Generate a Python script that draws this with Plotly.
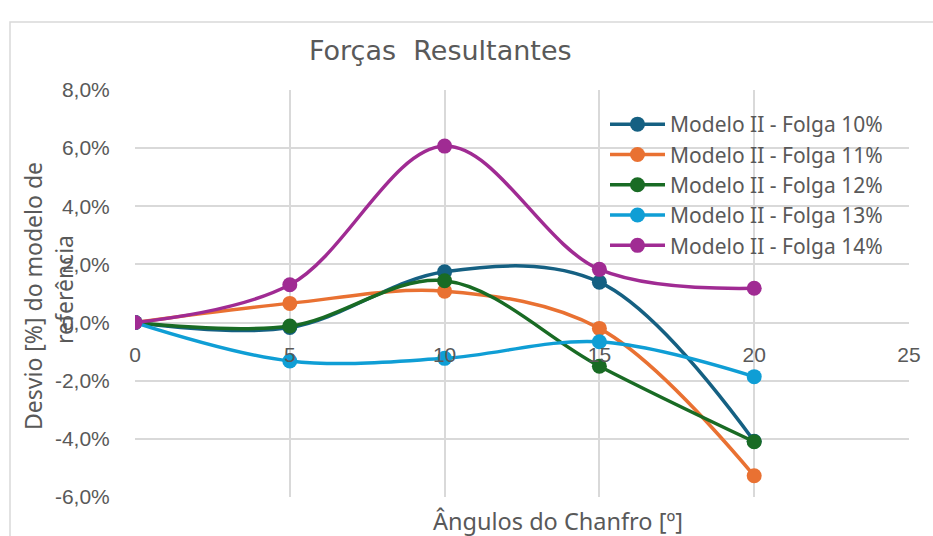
import plotly.graph_objects as go

# Chamfer angles (degrees) and deviation from the reference model (fraction)
angles = [0, 5, 10, 15, 20]
folga_10 = [0.0, -0.0017, 0.0175, 0.0139, -0.0408]
folga_11 = [0.0, 0.0066, 0.0108, -0.0020, -0.0527]
folga_12 = [0.0, -0.0012, 0.0144, -0.0150, -0.0410]
folga_13 = [0.0, -0.0132, -0.0123, -0.0066, -0.0186]
folga_14 = [0.0, 0.0130, 0.0607, 0.0183, 0.0118]

series_names = [
    "Modelo II - Folga 10%",
    "Modelo II - Folga 11%",
    "Modelo II - Folga 12%",
    "Modelo II - Folga 13%",
    "Modelo II - Folga 14%",
]
series_values = [folga_10, folga_11, folga_12, folga_13, folga_14]
colors = ["#156082", "#E97132", "#196B24", "#0F9ED5", "#A02B93"]

x_ticks = [0, 5, 10, 15, 20, 25]
y_ticks = [-0.06, -0.04, -0.02, 0.0, 0.02, 0.04, 0.06, 0.08]
y_tick_labels = ["-6,0%", "-4,0%", "-2,0%", "0,0%", "2,0%", "4,0%", "6,0%", "8,0%"]

text_color = "#595959"
grid_color = "#D9D9D9"

fig = go.Figure()
for name, vals, col in zip(series_names, series_values, colors):
    fig.add_trace(go.Scatter(
        x=angles, y=vals, name=name,
        mode="lines+markers",
        line=dict(color=col, width=3.5, shape="spline", smoothing=1.0),
        marker=dict(color=col, size=15),
    ))

y_min, y_max = -0.06, 0.08
zero_pos = (0 - y_min) / (y_max - y_min)

fig.update_layout(
    width=933, height=536,
    margin=dict(l=135, r=24, t=90, b=39),
    paper_bgcolor="white", plot_bgcolor="white",
    font=dict(family="Liberation Sans, Arial, sans-serif", color=text_color),
    showlegend=True,
    legend=dict(
        x=(605 - 135) / 774, y=(497 - 104) / 407,
        xanchor="left", yanchor="top",
        bgcolor="rgba(0,0,0,0)",
        font=dict(family="Noto Sans, sans-serif", size=21, color=text_color),
        itemwidth=55,
        tracegroupgap=0,
    ),
    xaxis=dict(
        range=[0, 25], tickvals=x_ticks,
        showgrid=True, gridcolor=grid_color, gridwidth=1.5,
        zeroline=False, showline=False,
        anchor="free", position=zero_pos,
        ticks="outside", ticklen=13, tickcolor="rgba(0,0,0,0)",
        tickfont=dict(size=21, color=text_color),
    ),
    yaxis=dict(
        range=[y_min, y_max], tickvals=y_ticks, ticktext=y_tick_labels,
        showgrid=True, gridcolor=grid_color, gridwidth=1.5,
        zeroline=False, showline=False,
        ticks="outside", ticklen=20, tickcolor="rgba(0,0,0,0)",
        tickfont=dict(size=21, color=text_color),
    ),
)

# Chart title
fig.add_annotation(
    text="Forças\u00a0 Resultantes", xref="paper", yref="paper",
    x=(440 - 135) / 774, y=(497 - 50) / 407,
    xanchor="center", yanchor="middle", showarrow=False,
    font=dict(family="DejaVu Sans, sans-serif", size=27, color=text_color),
)

# X axis title
fig.add_annotation(
    text="Ângulos do Chanfro [º]", xref="paper", yref="paper",
    x=(558 - 135) / 774, y=(497 - 521) / 407,
    xanchor="center", yanchor="middle", showarrow=False,
    font=dict(family="Noto Sans, sans-serif", size=23.5, color=text_color),
)

# Y axis title (two lines)
fig.add_annotation(
    text="Desvio [%] do modelo de", xref="paper", yref="paper",
    x=(33 - 135) / 774, y=(497 - 296) / 407,
    xanchor="center", yanchor="middle", showarrow=False, textangle=-90,
    font=dict(family="Noto Sans, sans-serif", size=23, color=text_color),
)
fig.add_annotation(
    text="referência", xref="paper", yref="paper",
    x=(64 - 135) / 774, y=(497 - 290) / 407,
    xanchor="center", yanchor="middle", showarrow=False, textangle=-90,
    font=dict(family="Noto Sans, sans-serif", size=23, color=text_color),
)

# Chart area border
fig.add_shape(
    type="rect", xref="paper", yref="paper",
    x0=(10 - 135) / 774, x1=(940 - 135) / 774,
    y0=(497 - 545) / 407, y1=(497 - 22) / 407,
    line=dict(color="#D9D9D9", width=1.5), fillcolor="rgba(0,0,0,0)",
    layer="below",
)

fig.write_html("out.html")
